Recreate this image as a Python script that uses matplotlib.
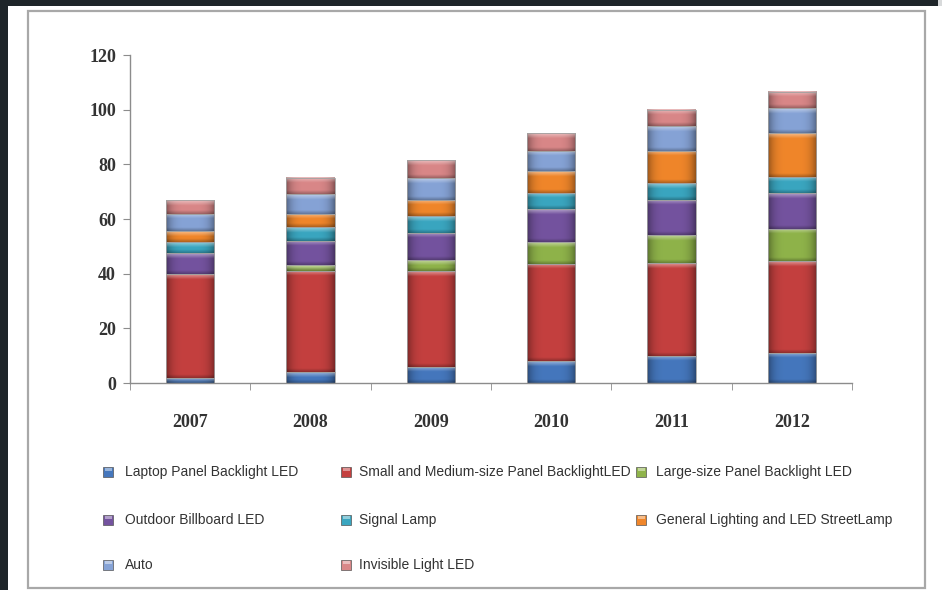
import numpy as np
import matplotlib
matplotlib.use('Agg')
import matplotlib.pyplot as plt
from matplotlib.patches import Rectangle
from matplotlib.colors import to_rgb

# ---------------- data ----------------
years = ['2007', '2008', '2009', '2010', '2011', '2012']
series_names = [
    'Laptop Panel Backlight LED',
    'Small and Medium-size Panel BacklightLED',
    'Large-size Panel Backlight LED',
    'Outdoor Billboard LED',
    'Signal Lamp',
    'General Lighting and LED StreetLamp',
    'Auto',
    'Invisible Light LED',
]
laptop = [2, 4, 6, 8, 10, 11]
small_medium = [38, 37, 35, 35.5, 34, 33.5]
large_size = [0, 2, 4, 8, 10, 12]
outdoor = [7.5, 9, 10, 12, 13, 13]
signal_lamp = [4, 5, 6, 6, 6, 6]
general_lighting = [4, 5, 6, 8, 12, 16]
auto = [6.5, 7, 8, 7.5, 9, 9]
invisible = [5, 6, 6.5, 6.5, 6, 6]
y_ticks = [0, 20, 40, 60, 80, 100, 120]

series_values = [laptop, small_medium, large_size, outdoor, signal_lamp,
                 general_lighting, auto, invisible]
colors = ['#4577bd', '#c4403f', '#8fb34a', '#74539f', '#3aa6c0',
          '#f0862a', '#86a3d6', '#d98788']

# ---------------- figure ----------------
W, H = 942, 590
fig = plt.figure(figsize=(W / 100, H / 100), dpi=100, facecolor='#1e2529')

def fx(px):
    return px / W

def fy(py):
    return 1 - py / H

# white sheet and inner gray frame
fig.patches.append(Rectangle((fx(8), 0), 1 - fx(8), fy(6), transform=fig.transFigure,
                             facecolor='white', edgecolor='none', zorder=-3))
fig.patches.append(Rectangle((fx(938), fy(6)), 1 - fx(938), fy(0) - fy(6),
                             transform=fig.transFigure, facecolor='#d8dadb',
                             edgecolor='none', zorder=-3))
fig.patches.append(Rectangle((fx(28), fy(588)), fx(925) - fx(28), fy(11) - fy(588),
                             transform=fig.transFigure, facecolor='none',
                             edgecolor='#a8a8a8', linewidth=1.6, zorder=-2))

ax = fig.add_axes([fx(130), fy(383), fx(852) - fx(130), fy(55) - fy(383)])
ax.set_zorder(1)
ax.set_facecolor('none')

x = np.arange(len(years))
bar_w = 0.4
bottoms = np.zeros(len(years))

def shaded_image(color, h_px, w_px):
    base = np.array(to_rgb(color))
    rows = max(int(round(h_px * 2)), 2)
    cols = max(int(round(w_px * 2)), 2)
    u = (np.arange(cols) + 0.5) / cols
    fxp = 1 - 0.4 * (np.abs(u - 0.5) * 2) ** 4
    img = np.ones((rows, cols, 3)) * base
    img = img * fxp[None, :, None]
    r = np.arange(rows) / 2.0  # pixel from top
    top = np.clip(1 - r / 5.0, 0, 1) * 0.45
    bot = np.clip(1 - ((rows / 2.0) - r) / 4.0, 0, 1) * 0.3
    img = img * (1 - top[:, None, None]) + top[:, None, None] * 1.0
    img = img * (1 - bot[:, None, None])
    return np.clip(img, 0, 1)

px_per_unit = (383 - 55) / 120.0
bar_px = bar_w * (852 - 130) / 6.0

for vals, c in zip(series_values, colors):
    bars = ax.bar(x, vals, bar_w, bottom=bottoms, color=c, edgecolor='#a0a0a0',
                  linewidth=0.6, zorder=3)
    for p in bars:
        h = p.get_height()
        if h <= 0:
            p.set_visible(False)
            continue
        x0, y0, w = p.get_x(), p.get_y(), p.get_width()
        img = shaded_image(c, h * px_per_unit, bar_px)
        ax.imshow(img, extent=(x0, x0 + w, y0, y0 + h), aspect='auto',
                  origin='upper', interpolation='bilinear', zorder=2)
        p.set_facecolor('none')
    bottoms = bottoms + np.array(vals)

ax.set_xlim(-0.5, len(years) - 0.5)
ax.set_ylim(0, 120)
ax.set_yticks(y_ticks)
ax.set_yticklabels([str(t) for t in y_ticks], fontfamily='Liberation Serif',
                   fontweight='bold', fontsize=13, color='#333333')
ax.set_xticks(x)
ax.set_xticklabels(years, fontfamily='Liberation Serif', fontweight='bold',
                   fontsize=13, color='#333333')
ax.set_xticks(np.arange(-0.5, len(years), 1.0), minor=True)
ax.tick_params(axis='x', which='major', length=0, pad=22)
ax.tick_params(axis='x', which='minor', length=5, color='#8c8c8c', direction='out')
ax.tick_params(axis='y', length=5, color='#8c8c8c', direction='out', pad=5)
for s in ['top', 'right']:
    ax.spines[s].set_visible(False)
for s in ['left', 'bottom']:
    ax.spines[s].set_color('#8c8c8c')
    ax.spines[s].set_linewidth(1.0)

# ---------------- legend (manual, 3 columns) ----------------
col_marker_x = [108, 346, 641]
col_text_x = [125, 359, 656]
row_y = [472, 520, 565]
msz = 10
for i, (name, c) in enumerate(zip(series_names, colors)):
    r, cidx = divmod(i, 3)
    mx, my = col_marker_x[cidx], row_y[r]
    fig.patches.append(Rectangle((fx(mx - msz / 2), fy(my + msz / 2)), msz / W, msz / H,
                                 transform=fig.transFigure, facecolor=c,
                                 edgecolor='#555555', linewidth=0.5, zorder=3))
    fig.patches.append(Rectangle((fx(mx - msz / 2 + 1.5), fy(my - 1.5)), (msz - 3) / W, 2.5 / H,
                                 transform=fig.transFigure, facecolor='white', alpha=0.45,
                                 edgecolor='none', zorder=4))
    fig.text(fx(col_text_x[cidx]), fy(my), name, fontfamily='Liberation Sans',
             fontsize=10, color='#333333', va='center', ha='left')

fig.savefig('out.png', dpi=100, facecolor=fig.get_facecolor())
